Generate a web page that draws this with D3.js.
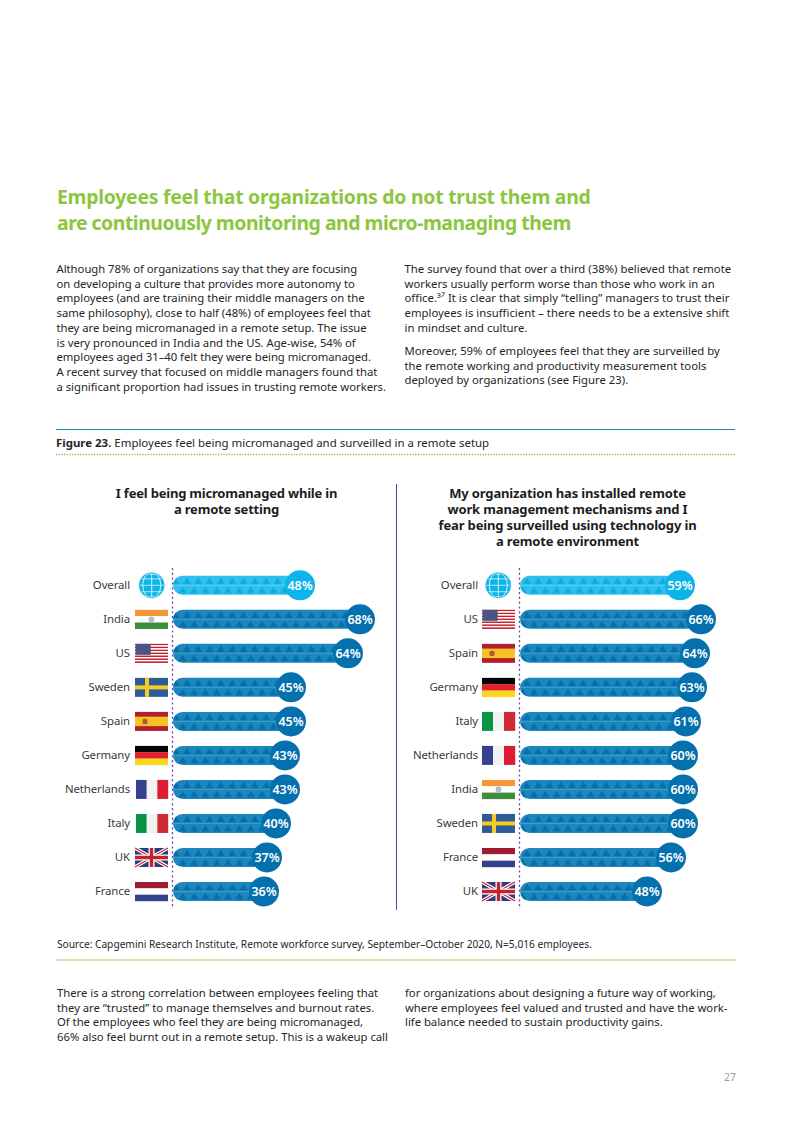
<!DOCTYPE html>
<html><head><meta charset="utf-8">
<script src="https://cdn.jsdelivr.net/npm/d3@7"></script>
<style>html,body{margin:0;padding:0;background:#fff}svg{display:block}text{font-family:"Noto Sans",sans-serif}</style>
</head><body><svg id="c" width="793" height="1122"></svg>
<script>
const leftCategories=["Overall","India","US","Sweden","Spain","Germany","Netherlands","Italy","UK","France"];
const leftValues=[48,68,64,45,45,43,43,40,37,36];
const rightCategories=["Overall","US","Spain","Germany","Italy","Netherlands","India","Sweden","France","UK"];
const rightValues=[59,66,64,63,61,60,60,60,56,48];
const headingLine1=["Employees feel that organizations do not trust them and"];
const headingLine2=["are continuously monitoring and micro-managing them"];
const paraLeft=["Although 78% of organizations say that they are focusing","on developing a culture that provides more autonomy to","employees (and are training their middle managers on the","same philosophy), close to half (48%) of employees feel that","they are being micromanaged in a remote setup. The issue","is very pronounced in India and the US. Age-wise, 54% of","employees aged 31–40 felt they were being micromanaged.","A recent survey that focused on middle managers found that","a significant proportion had issues in trusting remote workers."];
const paraRight1=["The survey found that over a third (38%) believed that remote","workers usually perform worse than those who work in an","office.³⁷ It is clear that simply “telling” managers to trust their","employees is insufficient – there needs to be a extensive shift","in mindset and culture."];
const paraRight2=["Moreover, 59% of employees feel that they are surveilled by","the remote working and productivity measurement tools","deployed by organizations (see Figure 23)."];
const bottomLeft=["There is a strong correlation between employees feeling that","they are “trusted” to manage themselves and burnout rates.","Of the employees who feel they are being micromanaged,","66% also feel burnt out in a remote setup. This is a wakeup call"];
const bottomRight=["for organizations about designing a future way of working,","where employees feel valued and trusted and have the work-","life balance needed to sustain productivity gains."];
const leftTitle=["I feel being micromanaged while in","a remote setting"];
const rightTitle=["My organization has installed remote","work management mechanisms and I","fear being surveilled using technology in","a remote environment"];
const figBold="Figure 23.", figRest=" Employees feel being micromanaged and surveilled in a remote setup";
const sourceText="Source: Capgemini Research Institute, Remote workforce survey, September–October 2020, N=5,016 employees.";

const svg=d3.select("#c");
const ink="#262626";
function lines(arr,x,y0,dy,size,opt={}){
  arr.forEach((t,i)=>svg.append("text").attr("x",x).attr("y",y0+i*dy).attr("font-size",size)
    .attr("fill",opt.fill||ink).attr("font-weight",opt.weight||400).attr("text-anchor",opt.anchor||"start")
    .attr("letter-spacing",opt.ls||0).text(t));
}
lines(headingLine1,57,204,0,19.4,{fill:"#8cc63f",weight:700,ls:-0.25});
lines(headingLine2,57,230,0,19.4,{fill:"#8cc63f",weight:700,ls:-0.48});
lines(paraLeft,56.5,273,14.72,11.3,{ls:-0.03});
lines(paraRight1,404.5,273,14.72,11.3,{ls:0.02});
lines(paraRight2,404.5,355,14.6,11.3,{ls:0.02});
lines(bottomLeft,57,997,14.6,11.3,{ls:-0.02});
lines(bottomRight,405,997,14.6,11.3,{ls:-0.02});
svg.append("line").attr("x1",56).attr("x2",735).attr("y1",429.5).attr("y2",429.5).attr("stroke","#1b7fb3").attr("stroke-width",1);
svg.append("line").attr("x1",56).attr("x2",736).attr("y1",454.5).attr("y2",454.5).attr("stroke","#8cc63f").attr("stroke-width",1.5).attr("stroke-dasharray","1.2 1.5");
svg.append("line").attr("x1",56).attr("x2",736).attr("y1",960).attr("y2",960).attr("stroke","#c3e09b").attr("stroke-width",1.5);
svg.append("line").attr("x1",396.5).attr("x2",396.5).attr("y1",484).attr("y2",910).attr("stroke","#5b3f9c").attr("stroke-width",1);
const fig=svg.append("text").attr("x",56).attr("y",447).attr("font-size",11.45).attr("fill",ink);
fig.append("tspan").attr("font-weight",700).text(figBold);
fig.append("tspan").text(figRest);
lines([sourceText],57,948,0,10.2,{ls:-0.01});
lines(["27"],736,1081,0,10.5,{fill:"#9a9a9a",anchor:"end"});
lines(leftTitle,226.5,498,16,13,{weight:700,anchor:"middle",fill:"#1d1d1d",ls:-0.2});
lines(rightTitle,567.5,498,16,13,{weight:700,anchor:"middle",fill:"#1d1d1d",ls:-0.15});

const defs=svg.append("defs");
function pat(id,bg,tri,stripe){
  const w=11.33;
  const p=defs.append("pattern").attr("id",id).attr("patternUnits","userSpaceOnUse").attr("width",w).attr("height",19);
  p.append("rect").attr("width",w).attr("height",19).attr("fill",bg);
  p.append("path").attr("d",`M1.4 8.2L5.67 1.8L9.93 8.2Z`).attr("fill",tri);
  p.append("path").attr("d",`M-2.8 17.4L1.5 11L5.8 17.4ZM8.5 17.4L12.8 11L17.1 17.4Z`).attr("fill",tri);
  p.append("path").attr("d",`M0 9.5H${w}`).attr("stroke",stripe).attr("stroke-width",.8);
}
pat("pBlue","#1b87bd","#066fab","#4aa2cf");
pat("pCyan","#2fc0ec","#0cade2","#6dd3f1");

function flag(g,name,x,w,h,panelLeft){
  const y=-h/2;
  const hb=(cols)=>cols.forEach((c,i)=>g.append("rect").attr("x",x).attr("y",y+i*h/3).attr("width",w).attr("height",h/3+.2).attr("fill",c));
  const vb=(cols,xx,ww)=>cols.forEach((c,i)=>g.append("rect").attr("x",xx+i*ww/3).attr("y",y).attr("width",ww/3+.2).attr("height",h).attr("fill",c));
  const tx=panelLeft?x+1:x, tw=panelLeft?w-1:w;
  if(name==="India"){hb(["#f39739","#ffffff","#3d8c40"]);g.append("circle").attr("cx",x+w/2).attr("cy",0).attr("r",2.9).attr("fill","#b8b8d4");}
  if(name==="US"){
    d3.range(13).forEach(i=>g.append("rect").attr("x",x).attr("y",y+i*h/13).attr("width",w).attr("height",h/13+.1).attr("fill",i%2?"#ffffff":"#c5202e"));
    g.append("rect").attr("x",x+.5).attr("y",y).attr("width",w*.46).attr("height",h*.58).attr("fill","#4a5485");
  }
  if(name==="Sweden"){g.append("rect").attr("x",x).attr("y",y).attr("width",w).attr("height",h).attr("fill","#2f5c99");
    g.append("rect").attr("x",x+10).attr("y",y).attr("width",4).attr("height",h).attr("fill","#f6cb26");
    g.append("rect").attr("x",x).attr("y",-2).attr("width",w).attr("height",4).attr("fill","#f6cb26");}
  if(name==="Spain"){g.append("rect").attr("x",x).attr("y",y).attr("width",w).attr("height",h).attr("fill","#b51f2b");
    g.append("rect").attr("x",x).attr("y",y+h/4).attr("width",w).attr("height",h/2).attr("fill","#f5c325");
    g.append("rect").attr("x",x+7.5).attr("y",-2.6).attr("width",5).attr("height",5.2).attr("rx",1.6).attr("fill","#b5543a");}
  if(name==="Germany")hb(["#050505","#e3202a","#f7d81f"]);
  if(name==="Netherlands")vb(["#35418f","#f1f2f2","#dd1c34"],tx,tw);
  if(name==="Italy")vb(["#0a9345","#f1f2f2","#cf2a36"],tx,tw);
  if(name==="France")hb(["#9e1b32","#ffffff","#33408c"]);
  if(name==="UK"){
    const cx=x+w/2;
    g.append("rect").attr("x",x).attr("y",y).attr("width",w).attr("height",h).attr("fill","#2f3b7d");
    const d=`M${x} ${y}L${x+w} ${-y}M${x+w} ${y}L${x} ${-y}`;
    g.append("path").attr("d",d).attr("stroke","#fff").attr("stroke-width",3.6);
    g.append("path").attr("d",d).attr("stroke","#c5202e").attr("stroke-width",1.2);
    g.append("path").attr("d",`M${cx} ${y}V${-y}M${x} 0H${x+w}`).attr("stroke","#fff").attr("stroke-width",6);
    g.append("path").attr("d",`M${cx} ${y}V${-y}M${x} 0H${x+w}`).attr("stroke","#c5202e").attr("stroke-width",3.4);
  }
}
function drawGlobe(g,cx){
  const r=12.8;
  const proj=d3.geoOrthographic().scale(r).translate([cx,0]).rotate([0,0]);
  const path=d3.geoPath(proj);
  g.append("circle").attr("cx",cx).attr("cy",0).attr("r",r).attr("fill","#0db4e9");
  const grat=d3.geoGraticule().extent([[-90,-90],[90.01,90.01]]).step([45,30])();
  g.append("path").attr("d",path(grat)).attr("fill","none").attr("stroke","#e6f8fd").attr("stroke-width",.9);
  g.append("circle").attr("cx",cx).attr("cy",0).attr("r",r-.4).attr("fill","none").attr("stroke","#0db4e9").attr("stroke-width",.8);
}

function panel(cats,vals,cfg){
  const y=d3.scalePoint().domain(cats).range([585.3,891.5]);
  const x=d3.scaleLinear().domain([0,100]).range([cfg.x0,cfg.x0+300]);
  svg.append("line").attr("x1",cfg.base).attr("x2",cfg.base).attr("y1",568).attr("y2",909)
    .attr("stroke","#6f4fb5").attr("stroke-width",1.3).attr("stroke-dasharray","2.2 2.6");
  const rows=svg.selectAll(null).data(cats.map((c,i)=>({c,v:vals[i]}))).enter().append("g")
    .attr("transform",d=>`translate(0,${y(d.c)})`);
  rows.append("text").attr("x",cfg.labelX).attr("y",3.9).attr("text-anchor","end").attr("font-size",11.4).attr("fill","#3a3a3a").attr("letter-spacing",-0.1).text(d=>d.c);
  rows.each(function(d){
    const g=d3.select(this);
    if(d.c==="Overall")drawGlobe(g,cfg.globeX);
    else flag(g,d.c,cfg.flagX,33,19,cfg.isLeft);
  });
  rows.append("path").attr("transform","translate(0,-9.5)")
    .attr("d",d=>{const a=cfg.base+.5,b=x(d.v),r=9.5;return `M${a+r} 0H${b}V19H${a+r}A${r} ${r} 0 0 1 ${a+r} 0Z`;})
    .attr("fill",d=>d.c==="Overall"?"url(#pCyan)":"url(#pBlue)");
  rows.append("circle").attr("cx",d=>x(d.v)).attr("cy",0).attr("r",15).attr("fill",d=>d.c==="Overall"?"#0db4e9":"#0470ad");
  rows.append("text").attr("x",d=>x(d.v)).attr("y",4.5).attr("text-anchor","middle").attr("font-size",12.5).attr("font-weight",600).attr("fill","#fff").text(d=>d.v+"%");
}
panel(leftCategories,leftValues,{x0:156,base:172.5,labelX:130,flagX:135,globeX:151.7,isLeft:true});
panel(rightCategories,rightValues,{x0:503,base:519.5,labelX:478,flagX:482,globeX:498.3,isLeft:false});
</script></body></html>
